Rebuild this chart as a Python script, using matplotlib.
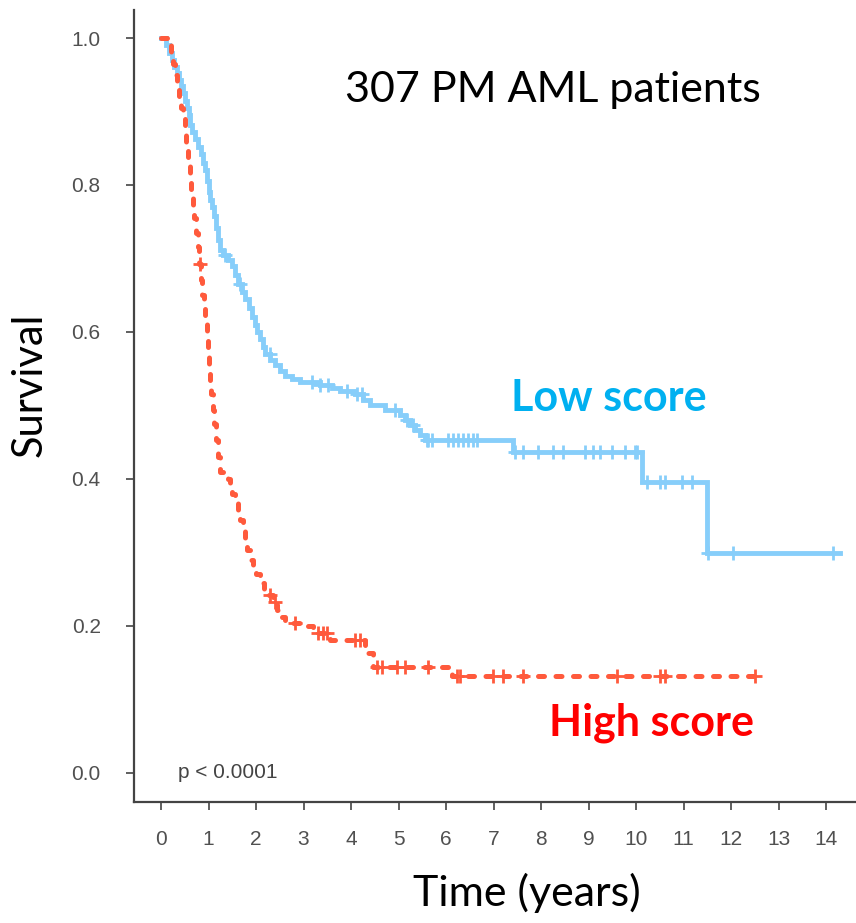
import matplotlib as mpl
mpl.use('Agg')
import matplotlib.pyplot as plt
import numpy as np

# Kaplan-Meier style curves
low_t = [0, 0.1, 0.16, 0.23, 0.28, 0.33, 0.38, 0.43, 0.47, 0.5, 0.54, 0.58, 0.62, 0.66, 0.72, 0.78,
         0.84, 0.88, 0.93, 0.97, 1.0, 1.03, 1.08, 1.12, 1.16, 1.2, 1.25, 1.3, 1.4, 1.49, 1.55, 1.62,
         1.7, 1.77, 1.85, 1.92, 1.97, 2.02, 2.08, 2.14, 2.19, 2.3, 2.4, 2.5, 2.61, 2.75, 2.93, 3.35,
         3.6, 3.77, 4.08, 4.25, 4.4, 4.72, 5.03, 5.14, 5.24, 5.35, 5.45, 5.56, 7.41, 10.13, 11.49]
low_s = [1.0, 0.99, 0.98, 0.97, 0.96, 0.952, 0.943, 0.935, 0.925, 0.915, 0.905, 0.895, 0.882, 0.872, 0.862, 0.852,
         0.842, 0.83, 0.82, 0.805, 0.79, 0.78, 0.77, 0.758, 0.742, 0.725, 0.712, 0.705, 0.698, 0.69, 0.678, 0.665,
         0.655, 0.645, 0.632, 0.62, 0.61, 0.6, 0.59, 0.58, 0.57, 0.562, 0.555, 0.547, 0.54, 0.536, 0.532, 0.528,
         0.524, 0.52, 0.515, 0.508, 0.50, 0.494, 0.487, 0.48, 0.473, 0.466, 0.46, 0.453, 0.437, 0.396, 0.299]
low_end = 14.3
low_cens = [1.35, 1.66, 2.29, 3.18, 3.35, 3.52, 3.92, 4.13, 4.23, 4.93, 5.18, 5.31, 5.6, 5.62, 5.71,
            6.04, 6.15, 6.25, 6.36, 6.46, 6.57, 6.65, 7.45, 7.62, 7.94, 8.25, 8.46, 8.93, 9.09, 9.24,
            9.49, 9.77, 9.98, 10.02, 10.23, 10.5, 10.61, 10.97, 11.18, 11.52, 12.04, 14.15]

high_t = [0, 0.15, 0.2, 0.25, 0.3, 0.34, 0.38, 0.42, 0.46, 0.5, 0.53, 0.57, 0.61, 0.64, 0.67, 0.7,
          0.74, 0.77, 0.8, 0.84, 0.87, 0.9, 0.93, 0.96, 0.99, 1.01, 1.03, 1.06, 1.09, 1.12, 1.16,
          1.2, 1.24, 1.4, 1.45, 1.5, 1.56, 1.61, 1.66, 1.72, 1.77, 1.82, 1.87, 1.94, 2.0, 2.08,
          2.17, 2.26, 2.35, 2.44, 2.52, 2.61, 3.0, 3.2, 3.56, 4.29, 4.46, 6.13]
high_s = [1.0, 0.995, 0.98, 0.965, 0.95, 0.935, 0.92, 0.905, 0.89, 0.87, 0.855, 0.835, 0.81, 0.79, 0.77, 0.755,
          0.735, 0.715, 0.693, 0.67, 0.65, 0.635, 0.616, 0.596, 0.576, 0.555, 0.535, 0.515, 0.494, 0.474, 0.453,
          0.43, 0.41, 0.4, 0.39, 0.38, 0.37, 0.357, 0.344, 0.33, 0.317, 0.303, 0.29, 0.28, 0.27, 0.258,
          0.25, 0.242, 0.232, 0.222, 0.212, 0.204, 0.2, 0.19, 0.18, 0.163, 0.144, 0.131]
high_end = 12.5
high_cens = [0.81, 2.3, 2.4, 2.82, 3.3, 3.41, 3.49, 4.08, 4.19, 4.55, 4.65, 4.97, 5.14, 5.62, 6.23,
             6.29, 6.99, 7.2, 7.62, 9.6, 10.5, 10.6, 12.5]

x_ticks = list(range(0, 15))
y_ticks = [0.0, 0.2, 0.4, 0.6, 0.8, 1.0]

LOW_COL = '#87CEFA'
HIGH_COL = '#FF5A3C'


def surv_at(times, surv, t):
    idx = np.searchsorted(times, t, side='right') - 1
    return np.asarray(surv)[idx]


fig = plt.figure(figsize=(8.56, 9.23), dpi=100)
ax = fig.add_axes([0.1565, 0.131, 0.8435, 0.858])

lt = low_t + [low_end]
ls = low_s + [low_s[-1]]
ax.step(lt, ls, where='post', color=LOW_COL, lw=3.5, solid_joinstyle='miter')
ax.plot(low_cens, surv_at(low_t, low_s, low_cens), '+', color=LOW_COL, ms=10, mew=2)

ht = high_t + [high_end]
hs = high_s + [high_s[-1]]
ax.step(ht, hs, where='post', color=HIGH_COL, lw=3.6, linestyle=(0, (1.2, 2.3)),
        dash_capstyle='round')
ax.plot(high_cens, surv_at(high_t, high_s, high_cens), '+', color=HIGH_COL, ms=10, mew=2)

ax.set_xlim(-0.57, 14.63)
ax.set_ylim(-0.04, 1.038)
ax.set_xticks(x_ticks)
ax.set_yticks(y_ticks)
ax.set_yticklabels(['%.1f' % v for v in y_ticks])

for side in ['top', 'right']:
    ax.spines[side].set_visible(False)
for side in ['left', 'bottom']:
    ax.spines[side].set_color('#444444')
    ax.spines[side].set_linewidth(1.6)

ax.tick_params(axis='both', colors='#444444', labelcolor='#505050', length=6, width=1.2,
               labelsize=15)
ax.tick_params(axis='x', pad=14)
ax.tick_params(axis='y', pad=18)
for lab in ax.get_xticklabels() + ax.get_yticklabels():
    lab.set_family('Liberation Sans')

fig.text(527 / 856, 1 - 893 / 923, 'Time (years)', family='Lato', fontsize=31,
         ha='center', va='center')
fig.text(30 / 856, 1 - 385 / 923, 'Survival', family='Lato', fontsize=30, rotation=90,
         ha='center', va='center')

ax.text(8.25, 0.929, '307 PM AML patients', family='Lato', fontsize=31, ha='center', va='center')
ax.text(9.43, 0.51, 'Low score', family='Lato', fontsize=31, fontweight='bold', color='#00B0F0',
        ha='center', va='center')
ax.text(10.32, 0.068, 'High score', family='Lato', fontsize=31, fontweight='bold', color='#FF0000',
        ha='center', va='center')
ax.text(0.36, 0.0, 'p < 0.0001', family='Liberation Sans', fontsize=15, color='#444444',
        ha='left', va='center')

fig.savefig('out.png', dpi=100)
print("OK")
